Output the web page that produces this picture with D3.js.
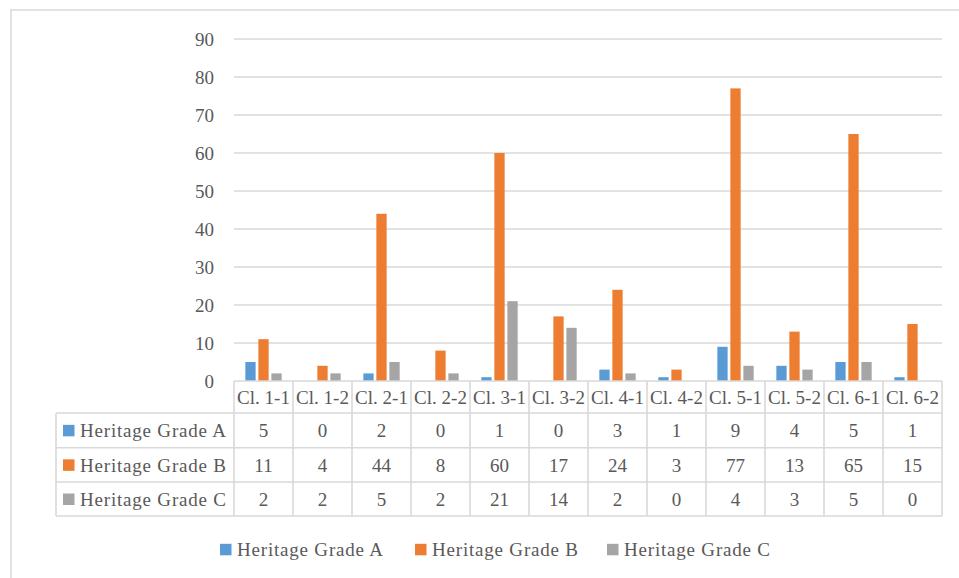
<!DOCTYPE html>
<html><head><meta charset="utf-8">
<script src="https://cdn.jsdelivr.net/npm/d3@7"></script>
<style>body{margin:0;background:#fff}svg{display:block}svg text{font-family:"Liberation Serif","Times New Roman",serif;font-size:19px;fill:#595959}</style>
</head><body>
<script>
const categories = ["Cl. 1-1","Cl. 1-2","Cl. 2-1","Cl. 2-2","Cl. 3-1","Cl. 3-2","Cl. 4-1","Cl. 4-2","Cl. 5-1","Cl. 5-2","Cl. 6-1","Cl. 6-2"];
const seriesNames = ["Heritage Grade A","Heritage Grade B","Heritage Grade C"];
const gradeA = [5,0,2,0,1,0,3,1,9,4,5,1];
const gradeB = [11,4,44,8,60,17,24,3,77,13,65,15];
const gradeC = [2,2,5,2,21,14,2,0,4,3,5,0];
const yTicks = [0,10,20,30,40,50,60,70,80,90];
const colors = ["#5B9BD5","#ED7D31","#A5A5A5"];

(function(){
const series = [gradeA, gradeB, gradeC];
const W = 959, H = 578;
const grid = "#d9d9d9";

const svg = d3.select("body").append("svg").attr("width", W).attr("height", H);
svg.append("rect").attr("x",11).attr("y",10).attr("width",980).attr("height",600)
  .attr("fill","#fff").attr("stroke",grid).attr("stroke-width",1.5);

const pLeft = 234, pRight = 942, pTop = 39, pBottom = 381;
const x0 = d3.scaleBand().domain(categories).range([pLeft, pRight]).padding(0);
const x1 = d3.scaleBand().domain(d3.range(3)).range([0, x0.bandwidth()]).paddingInner(0.21).paddingOuter(0.87);
const y = d3.scaleLinear().domain([0, 90]).range([pBottom, pTop]);

svg.append("g").selectAll("line").data(yTicks.filter(d => d > 0)).join("line")
  .attr("x1", pLeft).attr("x2", pRight).attr("y1", d => y(d)).attr("y2", d => y(d))
  .attr("stroke", grid).attr("stroke-width", 1.3);

svg.append("g").selectAll("text").data(yTicks).join("text")
  .attr("x", 214).attr("y", d => y(d)).attr("dy","0.35em").attr("text-anchor","end").text(d => d);

const g = svg.append("g");
categories.forEach((c, i) => {
  series.forEach((s, k) => {
    g.append("rect").attr("x", x0(c) + x1(k)).attr("width", x1.bandwidth())
      .attr("y", y(s[i])).attr("height", y(0) - y(s[i])).attr("fill", colors[k]);
  });
});

const rowTop = [381, 413, 447.7, 482, 516];
const tableLeft = 56;
const tg = svg.append("g").attr("stroke", grid).attr("stroke-width", 1.6);
tg.append("line").attr("x1", pLeft).attr("x2", pRight).attr("y1", rowTop[0]).attr("y2", rowTop[0]);
for (let r = 1; r < rowTop.length; r++) {
  tg.append("line").attr("x1", tableLeft).attr("x2", pRight).attr("y1", rowTop[r]).attr("y2", rowTop[r]);
}
const colEdges = categories.map(c => x0(c)).concat([pRight]);
colEdges.forEach(xv => tg.append("line").attr("x1", xv).attr("x2", xv).attr("y1", rowTop[0]).attr("y2", rowTop[4]));
tg.append("line").attr("x1", tableLeft).attr("x2", tableLeft).attr("y1", rowTop[1]).attr("y2", rowTop[4]);

svg.append("g").selectAll("text").data(categories).join("text")
  .attr("x", d => x0(d) + x0.bandwidth()/2).attr("y", (rowTop[0]+rowTop[1])/2).attr("dy","0.35em")
  .attr("text-anchor","middle").text(d => d);

series.forEach((s, k) => {
  const cy = (rowTop[k+1] + rowTop[k+2]) / 2;
  svg.append("rect").attr("x", 63).attr("y", cy - 5.5).attr("width", 11.5).attr("height", 11.5).attr("fill", colors[k]);
  svg.append("text").attr("x", 80).attr("y", cy).attr("dy","0.35em")
    .attr("letter-spacing", "0.8px").text(seriesNames[k]);
  svg.append("g").selectAll("text").data(s).join("text")
    .attr("x", (d, i) => x0(categories[i]) + x0.bandwidth()/2).attr("y", cy).attr("dy","0.35em")
    .attr("text-anchor","middle").text(d => d);
});

const legX = [220, 415, 607];
const legY = 549.5;
seriesNames.forEach((n, k) => {
  svg.append("rect").attr("x", legX[k]).attr("y", legY - 5.7).attr("width", 11.5).attr("height", 11.5).attr("fill", colors[k]);
  svg.append("text").attr("x", legX[k] + 17).attr("y", legY).attr("dy","0.35em")
    .attr("letter-spacing", "0.8px").text(n);
});
})();
</script>
</body></html>
